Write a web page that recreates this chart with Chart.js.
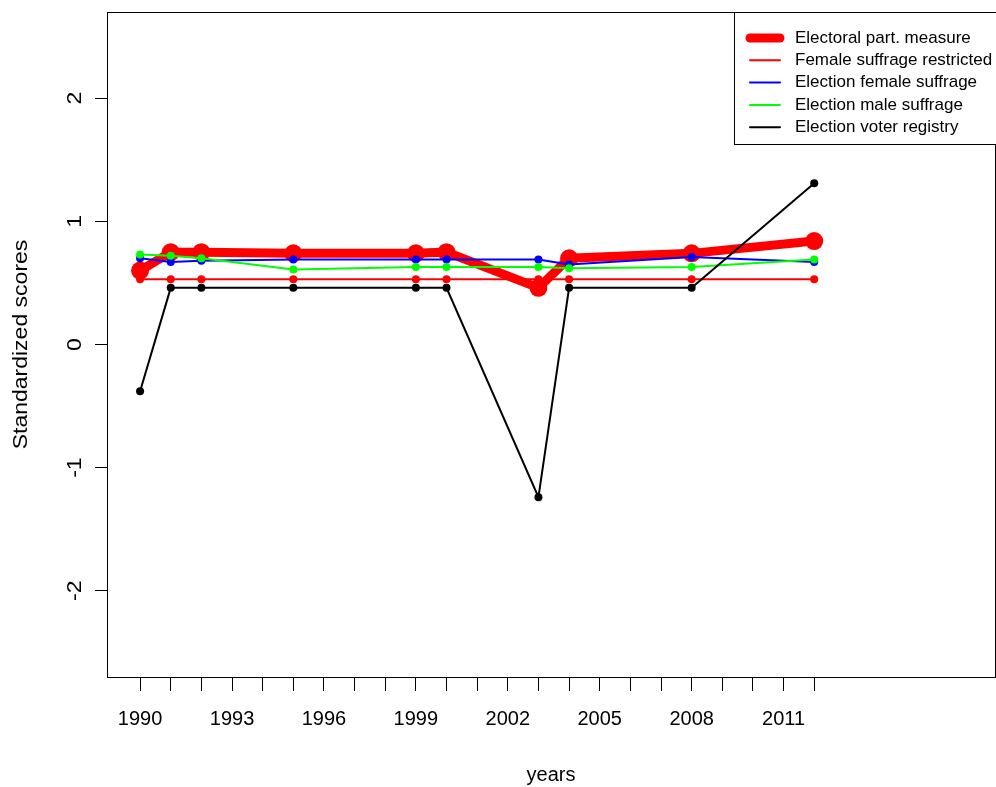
<!DOCTYPE html>
<html>
<head>
<meta charset="utf-8">
<script src="https://cdn.jsdelivr.net/npm/chart.js@4"></script>
<style>
  body { margin: 0; background: #fff; }
  #wrap { width: 996px; height: 787px; }
</style>
</head>
<body>
<div id="wrap"><canvas id="scoresChart" width="996" height="787"></canvas></div>
<script>
// data
const years = [1990, 1991, 1992, 1995, 1999, 2000, 2003, 2004, 2008, 2012];
const electoralPart = [0.60, 0.75, 0.75, 0.74, 0.74, 0.75, 0.46, 0.70, 0.74, 0.84];
const femaleRestricted = [0.53, 0.53, 0.53, 0.53, 0.53, 0.53, 0.53, 0.53, 0.53, 0.53];
const femaleSuffrage = [0.70, 0.67, 0.68, 0.69, 0.69, 0.69, 0.69, 0.65, 0.71, 0.67];
const maleSuffrage = [0.73, 0.72, 0.70, 0.61, 0.63, 0.63, 0.63, 0.62, 0.63, 0.69];
const voterRegistry = [-0.38, 0.46, 0.46, 0.46, 0.46, 0.46, -1.24, 0.46, 0.46, 1.31];

const tickYears = [1990, 1991, 1992, 1993, 1994, 1995, 1996, 1997, 1998, 1999, 2000,
  2001, 2002, 2003, 2004, 2005, 2006, 2007, 2008, 2009, 2010, 2011, 2012];
const labelYears = [1990, 1993, 1996, 1999, 2002, 2005, 2008, 2011];
const yTicks = [-2, -1, 0, 1, 2];

const FONT = "'Liberation Sans', Arial, sans-serif";

const pts = arr => years.map((y, i) => ({ x: y, y: arr[i] }));

const series = [
  { label: 'Electoral part. measure', data: electoralPart, color: '#ff0000', width: 9, radius: 9, order: 5 },
  { label: 'Female suffrage restricted', data: femaleRestricted, color: '#ff0000', width: 2, radius: 4, order: 4 },
  { label: 'Election female suffrage', data: femaleSuffrage, color: '#0000ff', width: 2, radius: 4, order: 3 },
  { label: 'Election male suffrage', data: maleSuffrage, color: '#00ff00', width: 2, radius: 4, order: 2 },
  { label: 'Election voter registry', data: voterRegistry, color: '#000000', width: 2, radius: 4, order: 1 }
];

// box, rotated y labels, axis titles and the R-style legend
const framePlugin = {
  id: 'frame',
  afterDraw(chart) {
    const { ctx, chartArea: a, scales } = chart;
    ctx.save();
    ctx.strokeStyle = '#000';
    ctx.lineWidth = 1;
    ctx.strokeRect(a.left + 0.5, a.top + 0.5, a.right - a.left, a.bottom - a.top);

    ctx.fillStyle = '#000';
    ctx.textAlign = 'center';
    ctx.textBaseline = 'middle';

    // y tick labels, parallel to the axis
    yTicks.forEach(v => {
      const py = scales.y.getPixelForValue(v);
      ctx.save();
      ctx.translate(75, py);
      ctx.rotate(-Math.PI / 2);
      ctx.scale(1.15, 1);
      ctx.font = '20px ' + FONT;
      ctx.fillText(String(v), 0, 0);
      ctx.restore();
    });

    // axis titles
    ctx.save();
    ctx.translate(21, (a.top + a.bottom) / 2);
    ctx.rotate(-Math.PI / 2);
    ctx.scale(1.15, 1);
    ctx.font = '20px ' + FONT;
    ctx.fillText('Standardized scores', 0, 0);
    ctx.restore();

    ctx.font = '20px ' + FONT;
    ctx.fillText('years', (a.left + a.right) / 2, 775);

    // legend
    const lx = 734, ly = 12;
    ctx.fillStyle = '#fff';
    ctx.fillRect(lx + 0.5, ly + 0.5, 300, 132);
    ctx.strokeStyle = '#000';
    ctx.strokeRect(lx + 0.5, ly + 0.5, 300, 132);
    ctx.textAlign = 'left';
    ctx.font = '17px ' + FONT;
    series.forEach((s, i) => {
      const ry = 38 + i * 22.3;
      ctx.strokeStyle = s.color;
      ctx.lineWidth = s.width;
      ctx.lineCap = 'round';
      ctx.beginPath();
      ctx.moveTo(750, ry);
      ctx.lineTo(780, ry);
      ctx.stroke();
      ctx.fillStyle = '#000';
      ctx.fillText(s.label, 795, ry);
    });
    ctx.restore();
  }
};

const ctx = document.getElementById('scoresChart').getContext('2d');

new Chart(ctx, {
  type: 'line',
  data: {
    datasets: series.map(s => ({
      label: s.label,
      data: pts(s.data),
      borderColor: s.color,
      backgroundColor: s.color,
      borderWidth: s.width,
      pointRadius: s.radius,
      pointBorderWidth: 0,
      pointBackgroundColor: s.color,
      tension: 0,
      fill: false,
      order: s.order
    }))
  },
  options: {
    responsive: false,
    animation: false,
    layout: { autoPadding: false, padding: { top: 12, right: 1, left: 0, bottom: 0 } },
    plugins: {
      legend: { display: false },
      tooltip: { enabled: false }
    },
    scales: {
      x: {
        type: 'linear',
        min: 1988.92,
        max: 2017.9,
        afterBuildTicks: s => { s.ticks = tickYears.map(v => ({ value: v })); },
        afterFit: s => { s.height = 110; s.paddingLeft = 0; s.paddingRight = 0; },
        grid: { drawOnChartArea: false, tickLength: 14, color: '#000', tickColor: '#000', tickWidth: 1 },
        border: { color: '#000', width: 1 },
        ticks: {
          autoSkip: false,
          maxRotation: 0,
          padding: 16,
          color: '#000',
          font: { size: 20, family: FONT },
          callback: v => labelYears.includes(v) ? String(v) : ''
        }
      },
      y: {
        type: 'linear',
        min: -2.7,
        max: 2.7,
        afterBuildTicks: s => { s.ticks = yTicks.map(v => ({ value: v })); },
        afterFit: s => { s.width = 107; s.paddingTop = 0; s.paddingBottom = 0; },
        grid: { drawOnChartArea: false, tickLength: 12, color: '#000', tickColor: '#000', tickWidth: 1 },
        border: { color: '#000', width: 1 },
        ticks: { display: false }
      }
    }
  },
  plugins: [framePlugin]
});
</script>
</body>
</html>
